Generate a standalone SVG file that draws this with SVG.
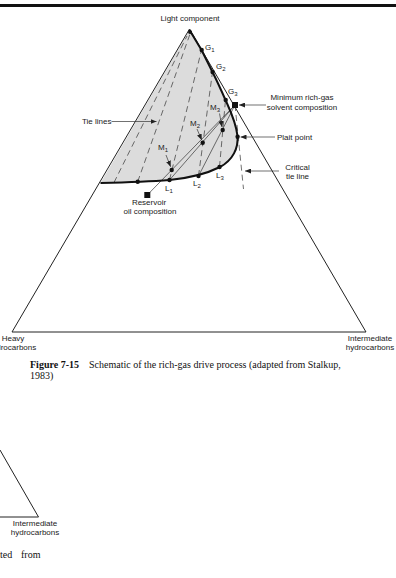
<svg xmlns="http://www.w3.org/2000/svg" width="396" height="578" viewBox="0 0 396 578">
<defs>
<style>
.lbl{font-family:"Liberation Sans",Arial,sans-serif;font-size:8px;fill:#222}
.sub{font-size:6px}
.cap{font-family:"Liberation Serif","Times New Roman",serif;font-size:10px;fill:#111}
.edge{fill:none;stroke:#222;stroke-width:1}
.thin{fill:none;stroke:#333;stroke-width:0.7}
.dash{fill:none;stroke:#333;stroke-width:0.7;stroke-dasharray:6 4}
.arr{fill:none;stroke:#333;stroke-width:0.7;marker-end:url(#ah)}
.dot{fill:#111}
</style>
<marker id="ah" viewBox="0 0 6 5" refX="6" refY="2.5" markerWidth="6" markerHeight="5" markerUnits="userSpaceOnUse" orient="auto">
<path d="M0,0 L6,2.5 L0,5 z" fill="#222"/>
</marker>
</defs>
<rect width="396" height="578" fill="#fff"/>
<rect id="topbar" x="0" y="4" width="396" height="3" fill="#111"/>

<g id="twophase-region">
<path d="M189.5,30 L100.5,183 C120,182.5 150,181.5 169.5,180 C190,178 208,173 220,167 C233,160 238.5,148 237.5,136 C236,122 230,110 225.5,100 C222,92 218,83 212.5,72 L201.5,50 Z" fill="#dcdcdc"/>
</g>

<g id="triangle">
<path class="edge" d="M189.5,29 L12,332 L366,332 Z"/>
</g>

<g id="connectors">
<!-- tie lines -->
<line class="dash" x1="114" y1="182.5" x2="187" y2="36"/>
<line class="dash" x1="137.7" y1="181.7" x2="190" y2="34"/>
<line class="dash" x1="169.5" y1="180" x2="201.5" y2="50"/>
<line class="dash" x1="198.5" y1="176" x2="212.5" y2="72"/>
<line class="dash" x1="219.5" y1="167" x2="225.5" y2="100"/>
<!-- critical tie line -->
<line class="dash" x1="235" y1="105" x2="243.5" y2="189"/>
<!-- mixing lines -->
<line class="thin" x1="147.3" y1="195" x2="235" y2="105"/>
<line class="thin" x1="169.5" y1="180" x2="235" y2="105"/>
<line class="thin" x1="198.5" y1="176" x2="235" y2="105"/>
<!-- label arrows -->
<line class="arr" x1="111.5" y1="121.5" x2="156.5" y2="121.5"/>
<line class="arr" x1="166" y1="155" x2="170.6" y2="166.8"/>
<line class="arr" x1="197" y1="129" x2="201.7" y2="140"/>
<line class="arr" x1="219.5" y1="113.5" x2="222" y2="127"/>
<line class="arr" x1="266" y1="105" x2="239" y2="105"/>
<line class="arr" x1="275" y1="137" x2="240.5" y2="137"/>
<line class="arr" x1="279" y1="171" x2="245" y2="171"/>
</g>

<g id="binodal">
<path d="M189.5,30 L201.5,50 L212.5,72 C218,83 222,92 225.5,100 C230,110 236,122 237.5,136 C238.5,148 233,160 220,167 C208,173 190,178 169.5,180 C150,181.5 120,182.5 100.5,183" fill="none" stroke="#111" stroke-width="2"/>
</g>

<g id="points">
<circle class="dot" cx="190" cy="32" r="2"/>
<circle class="dot" cx="201.7" cy="50" r="2.2"/>
<circle class="dot" cx="212.6" cy="72" r="2.2"/>
<circle class="dot" cx="225.7" cy="100" r="2.2"/>
<circle class="dot" cx="237.6" cy="136.7" r="2.2"/>
<circle class="dot" cx="171.7" cy="170" r="2.2"/>
<circle class="dot" cx="202.7" cy="142.7" r="2.2"/>
<circle class="dot" cx="222.7" cy="130" r="2.2"/>
<circle class="dot" cx="137.7" cy="181.7" r="2.2"/>
<circle class="dot" cx="169.5" cy="180" r="2.2"/>
<circle class="dot" cx="198.5" cy="176" r="2.2"/>
<circle class="dot" cx="219.5" cy="167" r="2.2"/>
<rect id="solvent" x="232" y="102" width="6" height="6" fill="#111"/>
<rect id="reservoir-oil" x="144.3" y="192" width="6" height="6" fill="#111"/>
</g>

<g id="labels">
<text class="lbl" x="190" y="20.5" text-anchor="middle">Light component</text>
<text class="lbl" x="205" y="50">G<tspan class="sub" dy="2">1</tspan></text>
<text class="lbl" x="216" y="69">G<tspan class="sub" dy="2">2</tspan></text>
<text class="lbl" x="228" y="94">G<tspan class="sub" dy="2">3</tspan></text>
<text class="lbl" x="158" y="150">M<tspan class="sub" dy="2">1</tspan></text>
<text class="lbl" x="190" y="126">M<tspan class="sub" dy="2">2</tspan></text>
<text class="lbl" x="210" y="110">M<tspan class="sub" dy="2">3</tspan></text>
<text class="lbl" x="165" y="191">L<tspan class="sub" dy="2">1</tspan></text>
<text class="lbl" x="193" y="186">L<tspan class="sub" dy="2">2</tspan></text>
<text class="lbl" x="216" y="178">L<tspan class="sub" dy="2">3</tspan></text>
<text class="lbl" x="82" y="124">Tie lines</text>
<text class="lbl" x="302" y="100" text-anchor="middle">Minimum rich-gas</text>
<text class="lbl" x="302" y="110" text-anchor="middle">solvent composition</text>
<text class="lbl" x="277" y="140">Plait point</text>
<text class="lbl" x="297.5" y="170" text-anchor="middle">Critical</text>
<text class="lbl" x="297.5" y="179" text-anchor="middle">tie line</text>
<text class="lbl" x="149" y="205" text-anchor="middle">Reservoir</text>
<text class="lbl" x="150" y="214" text-anchor="middle">oil composition</text>
<text class="lbl" x="13" y="341" text-anchor="middle">Heavy</text>
<text class="lbl" x="12" y="349.5" text-anchor="middle">hydrocarbons</text>
<text class="lbl" x="370" y="341" text-anchor="middle">Intermediate</text>
<text class="lbl" x="370" y="349.5" text-anchor="middle">hydrocarbons</text>
</g>

<g id="caption">
<text class="cap" x="30" y="368"><tspan font-weight="bold">Figure 7-15</tspan><tspan x="89">Schematic of the rich-gas drive process (adapted from Stalkup,</tspan></text>
<text class="cap" x="30" y="379">1983)</text>
</g>

<g id="lower-fragment">
<path class="edge" d="M0,450 L38.5,517 L0,517"/>
<text class="lbl" x="35" y="526" text-anchor="middle">Intermediate</text>
<text class="lbl" x="35" y="535" text-anchor="middle">hydrocarbons</text>
<text class="cap" x="0" y="558">ted</text>
<text class="cap" x="21" y="558">from</text>
</g>
</svg>
